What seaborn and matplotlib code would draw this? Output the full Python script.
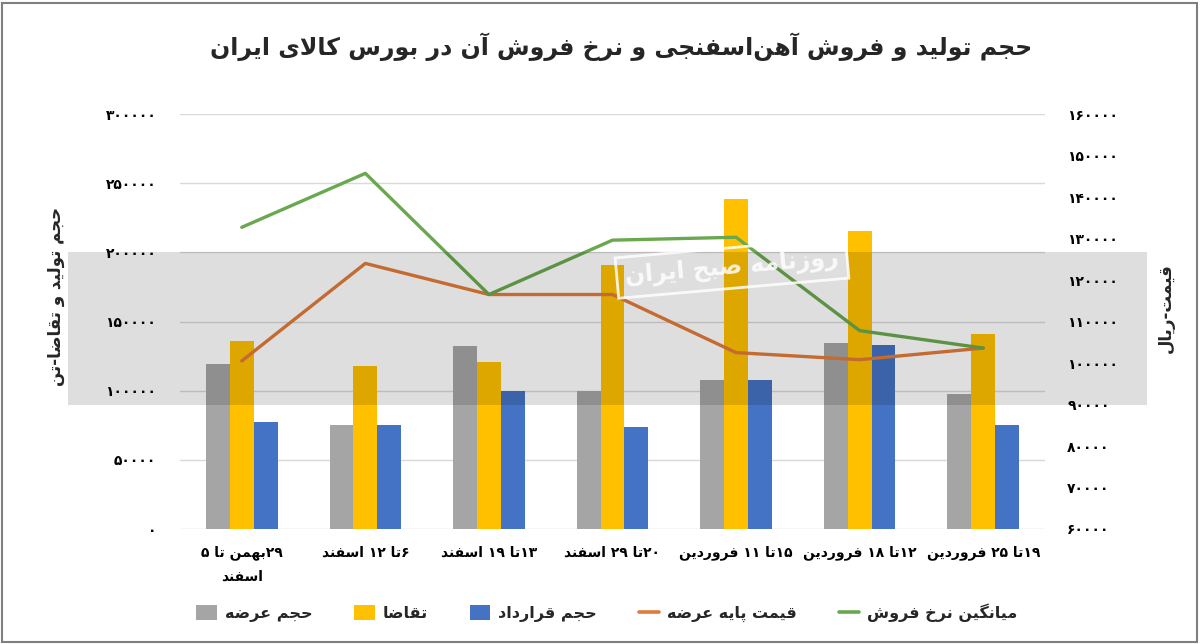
import numpy as np
import pandas as pd
import matplotlib
matplotlib.use("Agg")
import matplotlib.pyplot as plt
import seaborn as sns
from matplotlib.patches import Rectangle, Patch
from matplotlib.lines import Line2D

# ---------------- data ----------------
categories = ["۲۹بهمن تا ۵\nاسفند", "۶تا ۱۲ اسفند", "۱۳تا ۱۹ اسفند", "۲۰تا ۲۹ اسفند",
              "۱۵تا ۱۱ فروردین", "۱۲تا ۱۸ فروردین", "۱۹تا ۲۵ فروردین"]
supply = [119000, 75000, 132000, 100000, 108000, 134500, 97500]
demand = [136000, 117500, 121000, 190500, 238500, 215500, 141000]
contract = [77000, 75000, 100000, 74000, 108000, 133000, 75000]
base_price = [100500, 124000, 116500, 116500, 102500, 100800, 103600]
avg_price = [132700, 145700, 116500, 129600, 130300, 107800, 103600]

bar_series = ["حجم عرضه", "تقاضا", "حجم قرارداد"]
line_series = ["قیمت پایه عرضه", "میانگین نرخ فروش"]
left_ticks = [0, 50000, 100000, 150000, 200000, 250000, 300000]
right_ticks = [60000, 70000, 80000, 90000, 100000, 110000, 120000, 130000, 140000, 150000, 160000]

title = "حجم تولید و فروش آهن\u200cاسفنجی و نرخ فروش آن در بورس کالای ایران"
left_label = "حجم تولید و تقاضا-تن"
right_label = "قیمت-ریال"
watermark = "روزنامه صبح ایران"

bar_colors = ["#A5A5A5", "#FFC000", "#4472C4"]
line_colors = ["#E07B39", "#6AA84F"]

# ---------------- Persian shaping ----------------
FORMS = {
    'ا': ('\uFE8D', '\uFE8E', None, None), 'آ': ('\uFE81', '\uFE82', None, None),
    'ب': ('\uFE8F', '\uFE90', '\uFE91', '\uFE92'), 'ت': ('\uFE95', '\uFE96', '\uFE97', '\uFE98'),
    'ث': ('\uFE99', '\uFE9A', '\uFE9B', '\uFE9C'), 'ج': ('\uFE9D', '\uFE9E', '\uFE9F', '\uFEA0'),
    'ح': ('\uFEA1', '\uFEA2', '\uFEA3', '\uFEA4'), 'خ': ('\uFEA5', '\uFEA6', '\uFEA7', '\uFEA8'),
    'د': ('\uFEA9', '\uFEAA', None, None), 'ذ': ('\uFEAB', '\uFEAC', None, None),
    'ر': ('\uFEAD', '\uFEAE', None, None), 'ز': ('\uFEAF', '\uFEB0', None, None),
    'س': ('\uFEB1', '\uFEB2', '\uFEB3', '\uFEB4'), 'ش': ('\uFEB5', '\uFEB6', '\uFEB7', '\uFEB8'),
    'ص': ('\uFEB9', '\uFEBA', '\uFEBB', '\uFEBC'), 'ض': ('\uFEBD', '\uFEBE', '\uFEBF', '\uFEC0'),
    'ط': ('\uFEC1', '\uFEC2', '\uFEC3', '\uFEC4'), 'ظ': ('\uFEC5', '\uFEC6', '\uFEC7', '\uFEC8'),
    'ع': ('\uFEC9', '\uFECA', '\uFECB', '\uFECC'), 'غ': ('\uFECD', '\uFECE', '\uFECF', '\uFED0'),
    'ف': ('\uFED1', '\uFED2', '\uFED3', '\uFED4'), 'ق': ('\uFED5', '\uFED6', '\uFED7', '\uFED8'),
    'ل': ('\uFEDD', '\uFEDE', '\uFEDF', '\uFEE0'), 'م': ('\uFEE1', '\uFEE2', '\uFEE3', '\uFEE4'),
    'ن': ('\uFEE5', '\uFEE6', '\uFEE7', '\uFEE8'), 'ه': ('\uFEE9', '\uFEEA', '\uFEEB', '\uFEEC'),
    'و': ('\uFEED', '\uFEEE', None, None),
    'پ': ('\uFB56', '\uFB57', '\uFB58', '\uFB59'), 'چ': ('\uFB7A', '\uFB7B', '\uFB7C', '\uFB7D'),
    'ژ': ('\uFB8A', '\uFB8B', None, None), 'ک': ('\uFB8E', '\uFB8F', '\uFB90', '\uFB91'),
    'گ': ('\uFB92', '\uFB93', '\uFB94', '\uFB95'), 'ی': ('\uFBFC', '\uFBFD', '\uFBFE', '\uFBFF'),
}
LAM_ALEF = {'ا': ('\uFEFB', '\uFEFC'), 'آ': ('\uFEF5', '\uFEF6')}
DIGITS = set("0123456789۰۱۲۳۴۵۶۷۸۹")


def dual(c):
    return c in FORMS and FORMS[c][2] is not None


def shape(s):
    out = []
    i, n = 0, len(s)
    while i < n:
        c = s[i]
        if c not in FORMS:
            out.append(c)
            i += 1
            continue
        jp = i > 0 and dual(s[i - 1])
        if c == 'ل' and i + 1 < n and s[i + 1] in LAM_ALEF:
            iso, fin = LAM_ALEF[s[i + 1]]
            out.append(fin if jp else iso)
            i += 2
            continue
        jn = dual(c) and i + 1 < n and s[i + 1] in FORMS
        iso, fin, ini, med = FORMS[c]
        if jp and jn:
            out.append(med)
        elif jp:
            out.append(fin)
        elif jn:
            out.append(ini)
        else:
            out.append(iso)
        i += 1
    return "".join(out).replace('\u200c', '')


def runs(s):
    res, cur, cur_d = [], "", None
    for ch in s:
        d = ch in DIGITS
        if cur and d != cur_d:
            res.append((cur, cur_d))
            cur = ""
        cur += ch
        cur_d = d
    if cur:
        res.append((cur, cur_d))
    return res


def rtl(s):
    """right-to-left visual order, line by line"""
    lines = []
    for line in s.split("\n"):
        parts = runs(shape(line))[::-1]
        lines.append("".join(p if d else p[::-1] for p, d in parts))
    return "\n".join(lines)


def fa_num(v):
    return str(int(v)).translate(str.maketrans("0123456789", "۰۱۲۳۴۵۶۷۸۹"))


# ---------------- plot ----------------
sns.set_theme(style="white")
plt.rcParams['font.family'] = ['DejaVu Sans']

W, H = 1200, 644
fig = plt.figure(figsize=(W / 100, H / 100), dpi=100)
ax = fig.add_axes([180 / W, 1 - 529 / H, (1045 - 180) / W, (529 - 114) / H])

df = pd.DataFrame({
    "cat": np.tile(categories, 3),
    "series": np.repeat(bar_series, len(categories)),
    "value": supply + demand + contract,
})
sns.barplot(data=df, x="cat", y="value", hue="series", order=categories,
            hue_order=bar_series, palette=bar_colors, width=0.58, gap=0,
            saturation=1, linewidth=0, errorbar=None, legend=False, ax=ax)

ax.set_ylim(0, 300000)
ax.set_yticks(left_ticks)
ax.set_yticklabels([fa_num(v) for v in left_ticks], fontsize=10, fontweight="bold")
ax.set_xticks(range(len(categories)))
ax.set_xticklabels([rtl(c) for c in categories], fontsize=10, fontweight="bold",
                   linespacing=1.8, va="top")
ax.yaxis.grid(True, color="#D9D9D9", lw=1)
ax.xaxis.grid(False)
ax.set_axisbelow(True)
ax.tick_params(axis="y", length=0, pad=17, colors="black")
ax.tick_params(axis="x", length=0, pad=12, colors="black")
for s in ax.spines.values():
    s.set_visible(False)
ax.set_xlabel("")
ax.set_ylabel("")

ax2 = ax.twinx()
xpos = np.arange(len(categories))
sns.lineplot(x=xpos, y=base_price, color=line_colors[0], lw=2.4, ax=ax2)
sns.lineplot(x=xpos, y=avg_price, color=line_colors[1], lw=2.4, ax=ax2)
ax2.set_ylim(60000, 160000)
ax2.set_yticks(right_ticks)
ax2.set_yticklabels([fa_num(v) for v in right_ticks], fontsize=10, fontweight="bold")
ax2.tick_params(axis="y", length=0, pad=16, colors="black")
ax2.grid(False)
for s in ax2.spines.values():
    s.set_visible(False)
ax2.set_ylabel("")
ax.set_xlim(-0.5, len(categories) - 0.5)

# titles / axis labels
fig.text(621 / W, 1 - 47 / H, rtl(title), ha="center", va="center", fontsize=17, fontweight="bold")
fig.text(56 / W, 1 - 297 / H, rtl(left_label), rotation=90, ha="center", va="center",
         fontsize=12, fontweight="bold")
fig.text(1166 / W, 1 - 308 / H, rtl(right_label), rotation=90, ha="center", va="center",
         fontsize=12, fontweight="bold")

# legend
handles = [Patch(facecolor=c, edgecolor="none") for c in bar_colors] + \
          [Line2D([], [], color=c, lw=2.6) for c in line_colors]
labels = [rtl(s) for s in bar_series + line_series]
fig.legend(handles, labels, loc="center", bbox_to_anchor=(607 / W, 1 - 613 / H), ncol=5,
           frameon=False, prop={"weight": "bold", "size": 11.5}, handlelength=1.3,
           handleheight=1.1, columnspacing=2.6, handletextpad=0.5)

# watermark band
fig.add_artist(Rectangle((68 / W, 1 - 405 / H), (1147 - 68) / W, (405 - 252) / H,
                         transform=fig.transFigure, facecolor="black", alpha=0.13,
                         edgecolor="none", zorder=5))
fig.text(732 / W, 1 - 268 / H, rtl(watermark), rotation=5, color="white", alpha=0.85,
         fontsize=17, fontweight="bold", ha="center", va="center", zorder=6,
         bbox=dict(boxstyle="square,pad=0.35", facecolor="none", edgecolor="white", lw=2, alpha=0.85))

# outer frame
fig.add_artist(Rectangle((2 / W, 2 / H), 1 - 5 / W, 1 - 5 / H, transform=fig.transFigure,
                         fill=False, edgecolor="#7F7F7F", lw=1.5, zorder=10))

fig.savefig("out.png", dpi=100, facecolor="white")
